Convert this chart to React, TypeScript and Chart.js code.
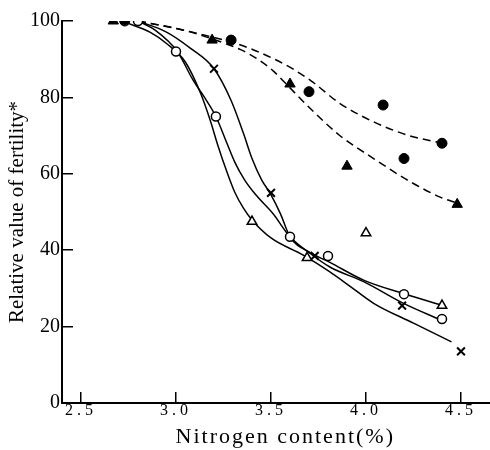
import React, { useEffect, useRef } from 'react';
import { Chart, registerables } from 'chart.js';

Chart.register(...registerables);

// Axis ticks
const xTicks = [2.5, 3.0, 3.5, 4.0, 4.5];
const yTicks = [0, 20, 40, 60, 80, 100];

// Observed points
const filledCircleX = [2.73, 3.29, 3.70, 4.09, 4.20, 4.40];
const filledCircleY = [100, 95, 81.5, 78, 64, 68];

const filledTriangleX = [2.67, 3.19, 3.60, 3.90, 4.48];
const filledTriangleY = [100, 95, 83.5, 62, 52];

const openCircleX = [2.80, 3.00, 3.21, 3.60, 3.80, 4.20, 4.40];
const openCircleY = [100, 92, 75, 43.5, 38.5, 28.5, 22];

const openTriangleX = [3.40, 3.69, 4.00, 4.40];
const openTriangleY = [47.5, 38, 44.5, 25.5];

const crossX = [3.20, 3.50, 3.73, 4.19, 4.50];
const crossY = [87.5, 55, 38.5, 25.5, 13.5];

// Fitted curves
const dashUpperX = [2.80, 3.04, 3.19, 3.30, 3.40, 3.51, 3.62, 3.72, 3.86, 4.04, 4.22, 4.40];
const dashUpperY = [100, 97.6, 95.8, 94.4, 92.6, 90.2, 87.3, 84.0, 78.5, 73.6, 70.1, 68.0];

const dashLowerX = [2.80, 3.04, 3.19, 3.34, 3.43, 3.51, 3.60, 3.69, 3.86, 4.04, 4.22, 4.39, 4.48];
const dashLowerY = [100, 97.6, 95.3, 92.5, 90.0, 87.0, 82.5, 77.9, 70.1, 64.0, 58.3, 53.9, 52.3];

const solidLeftX = [2.73, 2.865, 2.95, 3.05, 3.13, 3.18, 3.22, 3.265, 3.31, 3.355, 3.40, 3.50, 3.67, 3.81, 3.92, 4.04, 4.25, 4.45];
const solidLeftY = [99.7, 97.0, 94.1, 89.2, 81.0, 74.0, 67.5, 60.9, 55.1, 51.0, 47.9, 43.2, 38.7, 34.3, 30.4, 26.1, 20.9, 16.0];

const solidMidX = [2.80, 2.89, 3.007, 3.09, 3.15, 3.21, 3.26, 3.31, 3.36, 3.42, 3.51, 3.60, 3.71, 3.81, 3.99, 4.20, 4.40];
const solidMidY = [100, 97.6, 92.0, 84.5, 80.0, 75.0, 69.0, 63.0, 58.5, 54.5, 49.6, 43.5, 39.0, 35.6, 31.7, 26.0, 21.6];

const solidRightX = [2.80, 2.95, 3.075, 3.20, 3.29, 3.355, 3.40, 3.45, 3.50, 3.55, 3.60, 3.71, 3.81, 3.99, 4.20, 4.40];
const solidRightY = [100, 97.1, 92.9, 87.5, 79.2, 70.6, 64.0, 58.5, 54.5, 49.5, 43.5, 39.3, 36.8, 32.1, 28.6, 25.6];

const pts = (xs: number[], ys: number[]) => xs.map((x, i) => ({ x, y: ys[i] }));

const SERIF = '"Liberation Serif", "Times New Roman", serif';

// The figure is a crop: the x axis runs on past the right edge of the view.
const CANVAS_W = 516;
const CANVAS_H = 450;

export default function App() {
  const ref = useRef<HTMLCanvasElement | null>(null);

  useEffect(() => {
    document.body.style.margin = '0';
    const canvas = ref.current;
    if (!canvas) return;

    const marker = (data: any, style: string, radius: number, fill: string, bw: number) => ({
      type: 'scatter' as const,
      data,
      showLine: false,
      pointStyle: style,
      pointRadius: radius,
      pointBackgroundColor: fill,
      pointBorderColor: '#000',
      pointBorderWidth: bw,
    });

    const curve = (data: any, dash: number[]) => ({
      type: 'line' as const,
      data,
      showLine: true,
      pointRadius: 0,
      borderColor: '#000',
      borderWidth: 1.5,
      borderDash: dash,
      cubicInterpolationMode: 'monotone' as const,
      fill: false,
    });

    const chart = new Chart(canvas, {
      type: 'scatter',
      data: {
        datasets: [
          marker(pts(filledCircleX, filledCircleY), 'circle', 5, '#000', 1),
          marker(pts(filledTriangleX, filledTriangleY), 'triangle', 6, '#000', 1),
          marker(pts(openCircleX, openCircleY), 'circle', 4.5, '#fff', 1.5),
          marker(pts(openTriangleX, openTriangleY), 'triangle', 5.5, '#fff', 1.5),
          marker(pts(crossX, crossY), 'crossRot', 5.5, '#000', 2),
          curve(pts(dashUpperX, dashUpperY), [8, 5]),
          curve(pts(dashLowerX, dashLowerY), [8, 5]),
          curve(pts(solidLeftX, solidLeftY), []),
          curve(pts(solidMidX, solidMidY), []),
          curve(pts(solidRightX, solidRightY), []),
        ] as any,
      },
      options: {
        animation: false,
        responsive: false,
        events: [],
        layout: { padding: { top: 21, right: 0, left: 0, bottom: 0 } },
        plugins: { legend: { display: false }, tooltip: { enabled: false } },
        scales: {
          x: {
            type: 'linear',
            min: 2.4,
            max: 4.75,
            afterBuildTicks: (s: any) => {
              s.ticks = xTicks.map((v) => ({ value: v }));
            },
            afterFit: (s: any) => {
              s.height = 47;
              s.paddingLeft = 0;
              s.paddingRight = 0;
            },
            grid: { drawOnChartArea: false, drawTicks: true, tickLength: -11, color: '#000', lineWidth: 1.5 },
            border: { display: true, color: '#000', width: 2 },
            ticks: {
              color: '#000',
              font: { family: SERIF, size: 16 },
              padding: 9,
              maxRotation: 0,
              autoSkip: false,
              callback: (v: any) => Number(v).toFixed(1),
            },
            title: {
              display: true,
              text: 'Nitrogen content(%)',
              color: '#000',
              font: { family: SERIF, size: 22 },
              padding: { top: 0, bottom: 0 },
            },
          },
          y: {
            type: 'linear',
            min: 0,
            max: 100,
            afterBuildTicks: (s: any) => {
              s.ticks = yTicks.map((v) => ({ value: v }));
            },
            afterFit: (s: any) => {
              s.width = 62;
              s.paddingTop = 0;
              s.paddingBottom = 0;
            },
            grid: { drawOnChartArea: false, drawTicks: true, tickLength: -11, color: '#000', lineWidth: 1.5 },
            border: { display: true, color: '#000', width: 2 },
            ticks: {
              color: '#000',
              font: { family: SERIF, size: 20 },
              padding: 13,
              callback: (v: any) => String(v),
            },
            title: {
              display: true,
              text: 'Relative value of fertility*',
              color: '#000',
              font: { family: SERIF, size: 21 },
              padding: { top: 5, bottom: 0 },
            },
          },
        },
      } as any,
    });

    // letter-spaced typesetting of the x axis texts, as in the figure
    const xs: any = chart.scales.x;
    const spaced = (method: string, spacing: string) => {
      const orig = xs[method].bind(xs);
      xs[method] = (...args: any[]) => {
        const ctx: any = chart.ctx;
        const prev = ctx.letterSpacing;
        ctx.letterSpacing = spacing;
        orig(...args);
        ctx.letterSpacing = prev ?? '0px';
      };
    };
    spaced('drawLabels', '4px');
    spaced('drawTitle', '2px');
    chart.draw();

    return () => chart.destroy();
  }, []);

  return (
    <div style={{ width: 490, height: CANVAS_H, overflow: 'hidden' }}>
      <canvas
        ref={ref}
        width={CANVAS_W}
        height={CANVAS_H}
        style={{ display: 'block', width: CANVAS_W, height: CANVAS_H }}
      />
    </div>
  );
}
